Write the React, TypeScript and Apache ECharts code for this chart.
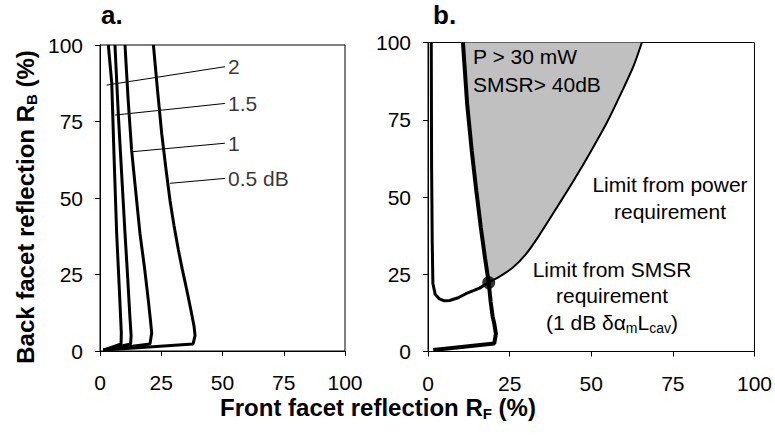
import React, { useEffect, useRef } from "react";
import * as echarts from "echarts";

const FONT = '"Liberation Sans", Arial, Helvetica, sans-serif';

// Panel a: loss curves (front facet reflection %, back facet reflection %)
const curve05: number[][] = [[1.4, 0.3], [20, 1.3], [38, 2.3], [38.8, 5], [38.4, 8], [37.2, 13], [35.4, 20], [33.5, 27], [32, 33], [30.2, 41], [28.6, 49], [27, 59], [25.2, 71], [23.5, 85], [21.8, 100]];
const curve1: number[][] = [[1.4, 0.3], [20.4, 2.3], [21.1, 5.9], [20.6, 10], [19.7, 16.7], [18.2, 27], [16.3, 38.5], [14.6, 52], [12.9, 65.7], [11.5, 82], [10.2, 100]];
const curve15: number[][] = [[1.4, 0.3], [12.5, 2.3], [12.7, 5], [12.2, 11.2], [11.3, 24], [10.2, 38.5], [8.9, 57], [7.5, 77], [6.1, 100]];
const curve2: number[][] = [[1.4, 0.3], [8.6, 2.3], [8.7, 5.9], [7.9, 20], [6.8, 38.5], [5.8, 62], [4.8, 87.5], [3.4, 100]];

// leader lines [labelEnd, curveEnd] and labels
const leaderLabels = ["2", "1.5", "1", "0.5 dB"];
const leaderLines: number[][][] = [
  [[51, 92.9], [2.7, 86.9]],
  [[51, 80.9], [6.1, 77.1]],
  [[51, 67.9], [12.9, 65.1]],
  [[51, 56.4], [28.6, 54.8]],
];

// Panel b
const smsrB: number[][] = [[1.6, 0.5], [20.3, 2.6], [20.8, 5.8], [20.3, 9], [19.8, 11.3], [19.2, 16], [18.6, 22.3], [17.5, 30], [16.2, 40], [14.8, 52], [13.4, 65], [12, 80], [10.7, 100]];
const powerLeft: number[][] = [[1.0, 100], [1.1, 60], [1.3, 35], [1.5, 22], [2.2, 18.5], [3.5, 17], [5, 16.4], [6.6, 16.5], [9, 17.3], [11.6, 18.7], [15.8, 20.5], [18.6, 22.3]];
const powerRight: number[][] = [[18.6, 22.3], [22, 24.3], [26, 27.2], [30, 31.5], [34, 37.5], [40, 47.5], [45, 56], [50, 65], [55, 74.5], [60, 85.5], [63, 92.5], [65.5, 100]];
const crossPoint: number[] = [18.6, 22.3];

const shadePoly: number[][] = [
  ...smsrB.filter((p) => p[1] >= crossPoint[1]),
  ...powerRight.slice().reverse(),
];

export default function App() {
  const ref = useRef<HTMLDivElement>(null);
  useEffect(() => {
    document.body.style.margin = "0";
    const chart = echarts.init(ref.current!, null, { renderer: "svg" });
    const axisCommon = {
      type: "value" as const,
      min: 0,
      max: 100,
      interval: 25,
      axisLine: { show: true, onZero: false, lineStyle: { color: "#000", width: 1 } },
      axisTick: { show: true, length: 5, lineStyle: { color: "#000", width: 1 } },
      splitLine: { show: false },
    };
    const lineS = (data: number[][], gi: number, w: number, z = 3, smooth: any = false) => ({
      type: "line",
      xAxisIndex: gi,
      yAxisIndex: gi,
      data,
      smooth,
      showSymbol: false,
      symbol: "none",
      lineStyle: { color: "#000", width: w },
      z,
      silent: true,
    });
    const txt = (x: number, y: number, text: string, align = "center") => ({
      type: "text", x, y, z: 20,
      style: { text, fontSize: 21, fontFamily: FONT, fill: "#000", align, verticalAlign: "middle" },
    });
    const option: any = {
      animation: false,
      backgroundColor: "#fff",
      grid: [
        { left: 100, top: 45, width: 245, height: 306, show: true, borderColor: "#000", borderWidth: 1, backgroundColor: "transparent" },
        { left: 428, top: 42.5, width: 330, height: 309, show: true, borderColor: "#000", borderWidth: 1, backgroundColor: "transparent" },
      ],
      xAxis: [0, 1].map((i) => ({
        ...axisCommon,
        gridIndex: i,
        axisLabel: { fontSize: 21, color: "#000", margin: 21, fontFamily: FONT },
      })),
      yAxis: [0, 1].map((i) => ({
        ...axisCommon,
        gridIndex: i,
        axisLabel: { fontSize: 21, color: "#000", margin: 17, fontFamily: FONT },
      })),
      series: [
        lineS(curve05, 0, 3),
        lineS(curve1, 0, 3),
        lineS(curve15, 0, 3),
        lineS(curve2, 0, 3),
        ...leaderLines.map((l) => lineS(l, 0, 1, 4)),
        {
          type: "scatter",
          xAxisIndex: 0,
          yAxisIndex: 0,
          symbolSize: 0,
          data: leaderLines.map((l, i) => ({ value: l[0], name: leaderLabels[i] })),
          label: {
            show: true,
            formatter: "{b}",
            position: "right",
            distance: 3,
            fontSize: 21,
            color: "#000",
            fontFamily: FONT,
          },
          z: 5,
        },
        {
          type: "custom",
          xAxisIndex: 1,
          yAxisIndex: 1,
          data: [[0, 0]],
          z: 1,
          silent: true,
          renderItem: (_p: any, api: any) => ({
            type: "polygon",
            shape: { points: shadePoly.map((p) => api.coord(p)) },
            style: { fill: "#c0c0c0", stroke: "none" },
          }),
        },
        lineS(smsrB, 1, 4),
        lineS(powerLeft, 1, 3),
        lineS(powerRight, 1, 2, 3, 0.3),
        {
          type: "scatter",
          xAxisIndex: 1,
          yAxisIndex: 1,
          symbolSize: 13,
          itemStyle: { color: "#000" },
          data: [crossPoint],
          z: 6,
        },
      ],
      graphic: [
        { type: "text", x: 101, y: 15, z: 20, style: { text: "a.", fontSize: 26, fontWeight: "bold", fontFamily: FONT, fill: "#000", align: "left", verticalAlign: "middle" } },
        { type: "text", x: 433, y: 15, z: 20, style: { text: "b.", fontSize: 26, fontWeight: "bold", fontFamily: FONT, fill: "#000", align: "left", verticalAlign: "middle" } },
        {
          type: "text", x: 378, y: 407, z: 20,
          style: {
            text: "{t|Front facet reflection R}{s|F}{t| (%)}",
            align: "center", verticalAlign: "middle", fill: "#000",
            rich: {
              t: { fontSize: 24, fontWeight: "bold", fontFamily: FONT, lineHeight: 28, fill: "#000" },
              s: { fontSize: 15, fontWeight: "bold", fontFamily: FONT, lineHeight: 15, padding: [13, 0, 0, 0], verticalAlign: "top", fill: "#000" },
            },
          },
        },
        {
          type: "text", x: 25, y: 207, rotation: Math.PI / 2, z: 20,
          style: {
            text: "{t|Back facet reflection R}{s|B}{t| (%)}",
            align: "center", verticalAlign: "middle", fill: "#000",
            rich: {
              t: { fontSize: 24, fontWeight: "bold", fontFamily: FONT, lineHeight: 28, fill: "#000" },
              s: { fontSize: 15, fontWeight: "bold", fontFamily: FONT, lineHeight: 15, padding: [13, 0, 0, 0], verticalAlign: "top", fill: "#000" },
            },
          },
        },
        txt(473, 56, "P > 30 mW", "left"),
        txt(473, 84, "SMSR> 40dB", "left"),
        txt(670, 184, "Limit from power"),
        txt(670, 211, "requirement"),
        txt(612, 269, "Limit from SMSR"),
        txt(612, 295, "requirement"),
        {
          type: "text", x: 612, y: 322, z: 20,
          style: {
            text: "{t|(1 dB δα}{s|m}{t|L}{s|cav}{t|)}",
            align: "center", verticalAlign: "middle", fill: "#000",
            rich: {
              t: { fontSize: 21, fontFamily: FONT, lineHeight: 25, fill: "#000" },
              s: { fontSize: 14, fontFamily: FONT, lineHeight: 14, padding: [11, 0, 0, 0], verticalAlign: "top", fill: "#000" },
            },
          },
        },
      ],
    };
    chart.setOption(option);
    return () => chart.dispose();
  }, []);
  return <div ref={ref} style={{ position: "absolute", left: 0, top: 0, width: 775, height: 446 }} />;
}
